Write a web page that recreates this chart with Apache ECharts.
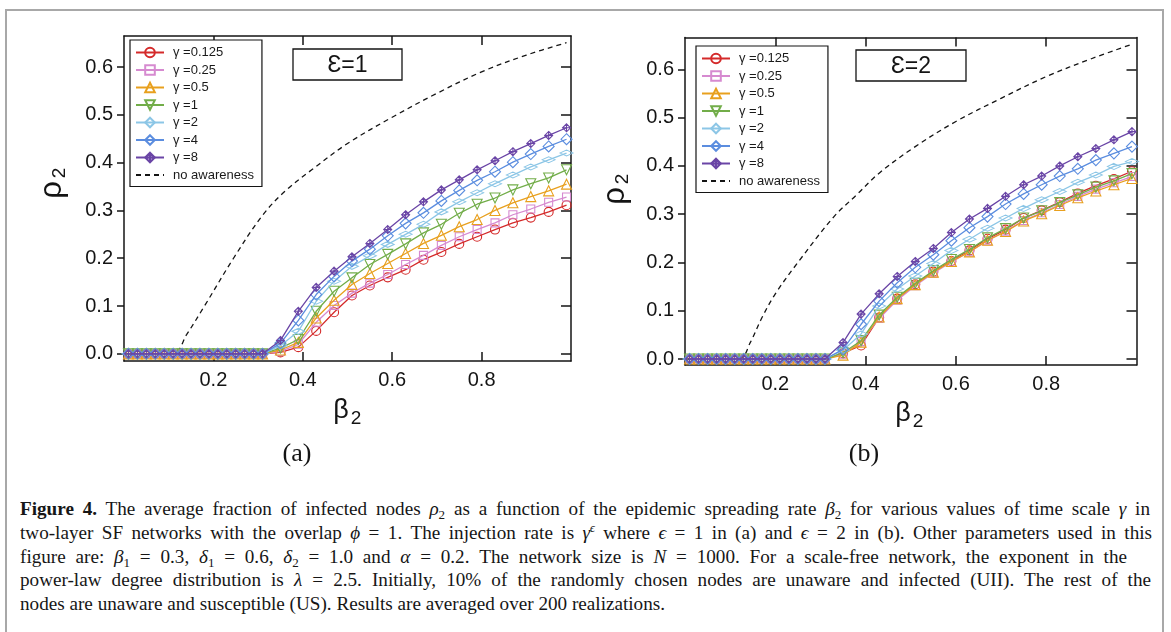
<!DOCTYPE html>
<html>
<head>
<meta charset="utf-8">
<script src="https://cdn.jsdelivr.net/npm/echarts@6.0.0/dist/echarts.min.js"></script>
<style>
  html, body { margin: 0; padding: 0; background: #fff; }
  #page { position: relative; width: 1171px; height: 632px; overflow: hidden; background: #fff; }
  #frame { position: absolute; left: 5px; top: 9px; width: 1159px; height: 660px; border: 2px solid #a8a8a8; box-sizing: border-box; }
  #chart { position: absolute; left: 0; top: 0; width: 1171px; height: 485px; }
  #caption { position: absolute; left: 20px; top: 497px; font-family: 'Liberation Serif', serif; font-size: 19.5px; line-height: 23.8px; color: #161616; transform-origin: 0 0; }
  .ln { white-space: nowrap; height: 23.8px; }
  .ln > span { display: inline-block; }
  sub { font-size: 68%; vertical-align: -0.3em; line-height: 0; }
  sup { font-size: 62%; vertical-align: 0.55em; line-height: 0; }
  b { font-weight: bold; }
</style>
</head>
<body>
<div id="page">
  <div id="frame"></div>
  <div id="chart"></div>
  <div id="caption">
    <div class="ln" data-w="1130"><span><b>Figure 4.</b> The average fraction of infected nodes <i>ρ</i><sub>2</sub> as a function of the epidemic spreading rate <i>β</i><sub>2</sub> for various values of time scale <i>γ</i> in</span></div>
    <div class="ln" data-w="1132"><span>two-layer SF networks with the overlap <i>ϕ</i> = 1. The injection rate is <i>γ</i><sup><i>ϵ</i></sup> where <i>ϵ</i> = 1 in (a) and <i>ϵ</i> = 2 in (b). Other parameters used in this</span></div>
    <div class="ln" data-w="1107"><span>figure are: <i>β</i><sub>1</sub> = 0.3, <i>δ</i><sub>1</sub> = 0.6, <i>δ</i><sub>2</sub> = 1.0 and <i>α</i> = 0.2. The network size is <i>N</i> = 1000. For a scale-free network, the exponent in the</span></div>
    <div class="ln" data-w="1131"><span>power-law degree distribution is <i>λ</i> = 2.5. Initially, 10% of the randomly chosen nodes are unaware and infected (UII). The rest of the</span></div>
    <div class="ln" data-last="645"><span>nodes are unaware and susceptible (US). Results are averaged over 200 realizations.</span></div>
  </div>
</div>
<script>
// Epidemic spreading rate beta_2 at which each curve was sampled
const beta = [0.01, 0.03, 0.05, 0.07, 0.09, 0.11, 0.13, 0.15, 0.17, 0.19, 0.21, 0.23, 0.25, 0.27, 0.29, 0.31,
              0.35, 0.39, 0.43, 0.47, 0.51, 0.55, 0.59, 0.63, 0.67, 0.71, 0.75, 0.79, 0.83, 0.87, 0.91, 0.95, 0.99];

// rho_2 for epsilon = 1
const eps1_g0125 = [0,0,0,0,0,0,0,0,0,0,0,0,0,0,0,0, 0.003,0.014,0.048,0.087,0.122,0.143,0.160,0.176,0.197,0.213,0.230,0.245,0.260,0.274,0.285,0.297,0.311];
const eps1_g025  = [0,0,0,0,0,0,0,0,0,0,0,0,0,0,0,0, 0.005,0.020,0.066,0.101,0.127,0.148,0.166,0.187,0.206,0.227,0.245,0.260,0.274,0.291,0.303,0.317,0.328];
const eps1_g05   = [0,0,0,0,0,0,0,0,0,0,0,0,0,0,0,0, 0.008,0.024,0.075,0.112,0.145,0.168,0.189,0.210,0.231,0.248,0.266,0.281,0.300,0.316,0.329,0.341,0.355];
const eps1_g1    = [0,0,0,0,0,0,0,0,0,0,0,0,0,0,0,0, 0.012,0.030,0.089,0.131,0.159,0.187,0.208,0.230,0.253,0.271,0.294,0.313,0.326,0.343,0.356,0.368,0.385];
const eps1_g2    = [0,0,0,0,0,0,0,0,0,0,0,0,0,0,0,0, 0.017,0.047,0.110,0.152,0.183,0.205,0.229,0.250,0.271,0.297,0.318,0.337,0.356,0.374,0.391,0.406,0.420];
const eps1_g4    = [0,0,0,0,0,0,0,0,0,0,0,0,0,0,0,0, 0.022,0.070,0.124,0.162,0.194,0.219,0.247,0.273,0.295,0.320,0.342,0.363,0.381,0.401,0.418,0.434,0.449];
const eps1_g8    = [0,0,0,0,0,0,0,0,0,0,0,0,0,0,0,0, 0.028,0.089,0.139,0.173,0.203,0.231,0.260,0.291,0.318,0.343,0.364,0.385,0.404,0.423,0.440,0.457,0.473];

// rho_2 for epsilon = 2
const eps2_g0125 = [0,0,0,0,0,0,0,0,0,0,0,0,0,0,0,0, 0.012,0.028,0.086,0.125,0.155,0.181,0.203,0.225,0.249,0.268,0.292,0.308,0.325,0.343,0.359,0.373,0.389];
const eps2_g025  = [0,0,0,0,0,0,0,0,0,0,0,0,0,0,0,0, 0.010,0.036,0.084,0.122,0.152,0.178,0.201,0.222,0.245,0.265,0.287,0.303,0.320,0.337,0.352,0.365,0.378];
const eps2_g05   = [0,0,0,0,0,0,0,0,0,0,0,0,0,0,0,0, 0.008,0.035,0.087,0.125,0.154,0.180,0.202,0.222,0.246,0.264,0.286,0.301,0.318,0.334,0.348,0.361,0.374];
const eps2_g1    = [0,0,0,0,0,0,0,0,0,0,0,0,0,0,0,0, 0.013,0.038,0.091,0.128,0.157,0.183,0.206,0.227,0.251,0.270,0.292,0.307,0.324,0.340,0.356,0.369,0.384];
const eps2_g2    = [0,0,0,0,0,0,0,0,0,0,0,0,0,0,0,0, 0.018,0.052,0.110,0.145,0.172,0.198,0.225,0.248,0.271,0.292,0.312,0.330,0.347,0.366,0.381,0.399,0.409];
const eps2_g4    = [0,0,0,0,0,0,0,0,0,0,0,0,0,0,0,0, 0.020,0.072,0.120,0.158,0.190,0.216,0.245,0.272,0.295,0.321,0.342,0.361,0.379,0.394,0.412,0.426,0.440];
const eps2_g8    = [0,0,0,0,0,0,0,0,0,0,0,0,0,0,0,0, 0.034,0.093,0.135,0.171,0.202,0.229,0.262,0.290,0.312,0.337,0.361,0.379,0.400,0.419,0.436,0.454,0.471];

// Reference curve without awareness: [beta_2, rho_2]
const noAware1 = [[0,0],[0.11,0],[0.14,0.04],[0.18,0.10],[0.245,0.20],[0.31,0.29],[0.36,0.34],[0.42,0.385],[0.50,0.44],[0.60,0.495],[0.70,0.545],[0.80,0.59],[0.90,0.625],[0.99,0.651]];
const noAware2 = [[0,0],[0.12,0],[0.145,0.035],[0.17,0.085],[0.20,0.135],[0.25,0.20],[0.33,0.295],[0.38,0.34],[0.43,0.385],[0.51,0.44],[0.60,0.492],[0.70,0.54],[0.80,0.585],[0.90,0.622],[0.99,0.652]];

const legendNames = ['γ =0.125', 'γ =0.25', 'γ =0.5', 'γ =1', 'γ =2', 'γ =4', 'γ =8', 'no awareness'];
const xTickValues = [0.2, 0.4, 0.6, 0.8];
const yTickValues = [0, 0.1, 0.2, 0.3, 0.4, 0.5, 0.6];
const panelTags = ['(a)', '(b)'];
const epsLabels = ['Ɛ=1', 'Ɛ=2'];

// Marker style per gamma value
const styles = [
  { color: '#d42a2a', symbol: 'circle', size: 9 },
  { color: '#d68ad0', symbol: 'rect', size: 8 },
  { color: '#e8a01e', symbol: 'triangle', size: 10 },
  { color: '#72ad49', symbol: 'triangle', size: 10, rotate: 180 },
  { color: '#8cc6e6', symbol: 'diamond', size: [13, 6] },
  { color: '#5b8ddf', symbol: 'diamond', size: 11 },
  { color: '#6a45a6', symbol: 'path://M0,-1L1,0L0,1L-1,0Z M0,-1L0,1 M-1,0L1,0', size: 8 }
];

const panels = [
  { curves: [eps1_g0125, eps1_g025, eps1_g05, eps1_g1, eps1_g2, eps1_g4, eps1_g8], ref: noAware1,
    grid: { left: 124, top: 36, width: 447, height: 325 }, yMin: -0.015, yMax: 0.665,
    legend: { left: 130, top: 40 } },
  { curves: [eps2_g0125, eps2_g025, eps2_g05, eps2_g1, eps2_g2, eps2_g4, eps2_g8], ref: noAware2,
    grid: { left: 685, top: 37.5, width: 451.5, height: 327.5 }, yMin: -0.0124, yMax: 0.666,
    legend: { left: 696, top: 46 } }
];

const ink = '#141414';
const font = 'Liberation Sans';
const fmt = v => v.toFixed(1);
const pts = vals => beta.map((b, i) => [b, vals[i]]);

const grids = [], xAxes = [], yAxes = [], series = [], legends = [];

panels.forEach((p, k) => {
  grids.push(Object.assign({ containLabel: false }, p.grid));
  const line = { onZero: false, lineStyle: { color: ink, width: 1.5 } };
  // bottom and top x axes
  xAxes.push({ gridIndex: k, type: 'value', position: 'bottom', min: 0, max: 1,
    axisLine: line, splitLine: { show: false },
    axisTick: { inside: true, length: 9, customValues: xTickValues, lineStyle: { color: ink, width: 1.5 } },
    axisLabel: { customValues: xTickValues, formatter: fmt, fontSize: 20, fontFamily: font, color: ink, margin: 9 } });
  xAxes.push({ gridIndex: k, type: 'value', position: 'top', min: 0, max: 1,
    axisLine: line, splitLine: { show: false },
    axisTick: { inside: true, length: 9, customValues: xTickValues, lineStyle: { color: ink, width: 1.5 } },
    axisLabel: { show: false } });
  // left and right y axes
  yAxes.push({ gridIndex: k, type: 'value', position: 'left', min: p.yMin, max: p.yMax,
    axisLine: line, splitLine: { show: false },
    axisTick: { inside: false, length: 7, customValues: yTickValues, lineStyle: { color: ink, width: 1.5 } },
    axisLabel: { customValues: yTickValues, formatter: fmt, fontSize: 20, fontFamily: font, color: ink, margin: 11 } });
  yAxes.push({ gridIndex: k, type: 'value', position: 'right', min: p.yMin, max: p.yMax,
    axisLine: line, splitLine: { show: false },
    axisTick: { inside: true, length: 10, customValues: yTickValues, lineStyle: { color: ink, width: 1.5 } },
    axisLabel: { show: false } });

  series.push({ type: 'line', name: 'no awareness', xAxisIndex: 2 * k, yAxisIndex: 2 * k,
    data: p.ref, symbol: 'none', smooth: 0.35, silent: true, animation: false, z: 1,
    itemStyle: { color: ink },
    lineStyle: { color: ink, width: 1.3, type: [5, 4] } });

  p.curves.forEach((vals, i) => {
    const s = styles[i];
    series.push({ type: 'line', name: legendNames[i], xAxisIndex: 2 * k, yAxisIndex: 2 * k,
      data: pts(vals), symbol: s.symbol, symbolSize: s.size, symbolRotate: s.rotate || 0,
      silent: true, animation: false, z: 2 + i,
      lineStyle: { color: s.color, width: 1.3 },
      itemStyle: { color: 'rgba(255,255,255,0)', borderColor: s.color, borderWidth: 1.1 } });
  });

  legends.push({ orient: 'vertical', left: p.legend.left, top: p.legend.top,
    itemWidth: 28, itemHeight: 12, itemGap: 4.5, padding: [6, 8, 5, 5],
    borderColor: ink, borderWidth: 1.2, selectedMode: false, backgroundColor: '#fff',
    textStyle: { fontSize: 13, fontFamily: font, color: '#1a1a1a', padding: [0, 0, 0, 4] },
    data: legendNames.map(n => n === 'no awareness'
      ? { name: n, itemStyle: { color: 'rgba(0,0,0,0)', borderWidth: 0 } }
      : { name: n }) });
});

// Panel annotations: epsilon boxes, axis titles, sub-figure tags
const graphics = [];
const epsBoxes = [{ x: 293, y: 49, w: 109, h: 31 }, { x: 856, y: 50, w: 110, h: 31 }];
const rhoPos = [{ x: 52, y: 190 }, { x: 615, y: 196 }];
const betaPos = [{ x: 341, y: 411 }, { x: 903, y: 414 }];
const tagPos = [{ x: 297, y: 454 }, { x: 864, y: 454 }];

[0, 1].forEach(k => {
  const b = epsBoxes[k];
  graphics.push({ type: 'rect', z: 100, shape: { x: b.x, y: b.y, width: b.w, height: b.h },
    style: { fill: '#fff', stroke: ink, lineWidth: 1.3 } });
  graphics.push({ type: 'text', z: 101, x: b.x + b.w / 2, y: b.y + b.h / 2 + 1,
    style: { text: epsLabels[k], fontSize: 23, fontFamily: font, fill: ink, align: 'center', verticalAlign: 'middle' } });

  const r = rhoPos[k];
  graphics.push({ type: 'text', x: r.x, y: r.y, rotation: Math.PI / 2,
    style: { text: 'ρ', fontSize: 31, fontFamily: font, fill: ink, align: 'center', verticalAlign: 'middle' } });
  graphics.push({ type: 'text', x: r.x + 8, y: r.y - 17, rotation: Math.PI / 2,
    style: { text: '2', fontSize: 19, fontFamily: font, fill: ink, align: 'center', verticalAlign: 'middle' } });

  const be = betaPos[k];
  graphics.push({ type: 'text', x: be.x, y: be.y,
    style: { text: 'β', fontSize: 27, fontFamily: font, fill: ink, align: 'center', verticalAlign: 'middle' } });
  graphics.push({ type: 'text', x: be.x + 15, y: be.y + 8,
    style: { text: '2', fontSize: 19, fontFamily: font, fill: ink, align: 'center', verticalAlign: 'middle' } });

  const t = tagPos[k];
  graphics.push({ type: 'text', x: t.x, y: t.y,
    style: { text: panelTags[k], fontSize: 26, fontFamily: 'Liberation Serif', fill: ink, align: 'center', verticalAlign: 'middle' } });
});

const chart = echarts.init(document.getElementById('chart'), null, { renderer: 'canvas' });
chart.setOption({
  animation: false,
  backgroundColor: 'transparent',
  grid: grids,
  xAxis: xAxes,
  yAxis: yAxes,
  legend: legends,
  series: series,
  graphic: graphics
});

// Caption: one horizontal condensation for the whole block (set from the last,
// ragged line), then word spacing so each full line ends at its right edge.
(function () {
  const cap = document.getElementById('caption');
  const lines = Array.from(cap.querySelectorAll('.ln'));
  const spans = lines.map(l => l.firstElementChild);
  const widths = spans.map(s => s.getBoundingClientRect().width);
  const li = lines.length - 1;
  const S = parseFloat(lines[li].dataset.last) / widths[li];
  lines.forEach((ln, i) => {
    if (!ln.dataset.w) return;
    const target = parseFloat(ln.dataset.w) / S;
    const gaps = (spans[i].textContent.match(/ /g) || []).length;
    if (gaps) spans[i].style.wordSpacing = ((target - widths[i]) / gaps) + 'px';
  });
  cap.style.transform = 'scaleX(' + S + ')';
})();
</script>
</body>
</html>
